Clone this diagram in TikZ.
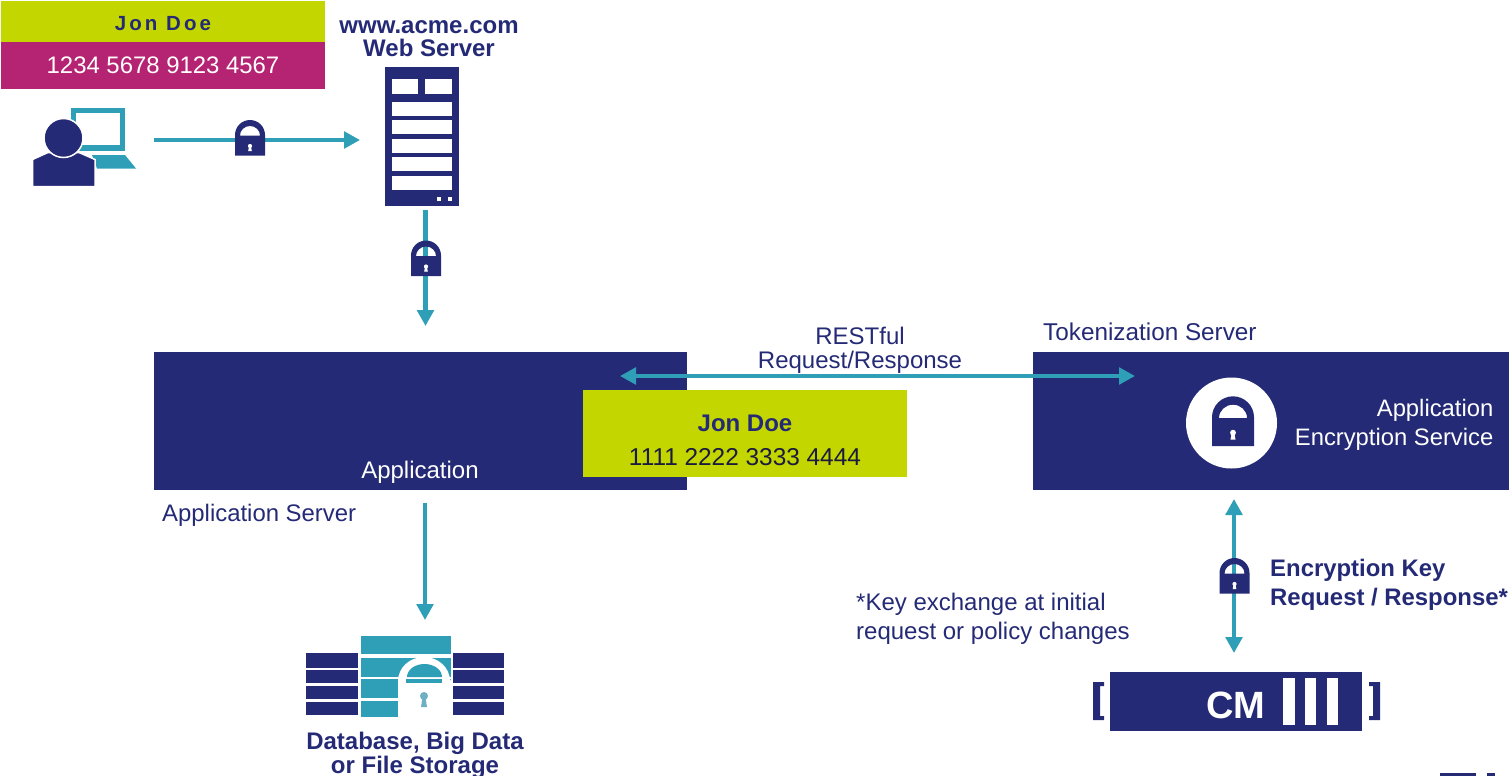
\documentclass[tikz,border=0pt]{standalone}
\usepackage{fontspec}
\setmainfont{Liberation Sans}
\usetikzlibrary{arrows.meta}
\definecolor{navy}{HTML}{242A75}
\definecolor{teal2}{HTML}{2F9FB8}
\definecolor{lime}{HTML}{C4D600}
\definecolor{plum}{HTML}{B52472}
\definecolor{lkey}{HTML}{6FAFC4}
\definecolor{inkdark}{HTML}{1B1B3F}
\newcommand{\fs}[1]{\fontsize{#1}{#1}\selectfont}
\tikzset{
  flow/.style={draw=teal2,line width=4.3pt,-{Triangle[length=16pt,width=16.5pt]}},
  flowboth/.style={draw=teal2,line width=4.3pt,{Triangle[length=16pt,width=16.5pt]}-{Triangle[length=16pt,width=16.5pt]}},
  lbl/.style={inner sep=0pt,text=navy,font=\fs{24}},
  lblb/.style={inner sep=0pt,text=navy,font=\fs{24}\bfseries},
  panel/.style={fill=navy,draw=none,inner sep=0pt,outer sep=0pt},
  pics/padlock/.style={code={
    \fill[navy,even odd rule] (-15,35) -- (-15,14.5) arc[start angle=180,end angle=360,radius=15] -- (15,35) -- cycle
      (-10,15) arc[start angle=180,end angle=360,x radius=10,y radius=9.5] -- cycle;
    \fill[white] (0,25.5) circle[radius=2.1];
    \fill[white] (-1,26) -- (1,26) -- (1.8,30.5) -- (-1.8,30.5) -- cycle;
  }}
}
\begin{document}
\begin{tikzpicture}[x=1pt,y=-1pt]
\useasboundingbox (0,0) rectangle (1512,776);
% card
\node[fill=lime,minimum width=324pt,minimum height=41pt,inner sep=0pt,outer sep=0pt,anchor=north west] (cardtop) at (1,1) {};
\node[fill=plum,minimum width=324pt,minimum height=47pt,inner sep=0pt,outer sep=0pt,anchor=north west] (cardbot) at (1,42) {};
\node[inner sep=0pt,text=navy,font=\fs{20.5}\bfseries\addfontfeature{LetterSpace=15}] (cardname) at (163,24) {Jon Doe};
\node[inner sep=0pt,text=white,font=\fs{23.9}] (cardnum) at (163,65) {1234 5678 9123 4567};
% user with laptop
\fill[teal2] (70.7,108) rectangle (125,150.7);
\fill[white] (76,112.7) rectangle (120,145);
\fill[teal2] (92,155) -- (125,155) -- (136,168.5) -- (97,168.5) -- cycle;
\fill[navy,draw=white,line width=1.5pt] (32.5,186.5) -- (32.5,159.5) -- (48,152.5) -- (79,152.5) -- (95,159.5) -- (95,186.5) -- cycle;
\fill[navy,draw=white,line width=1.5pt] (63.5,138) circle[radius=19.5];
\coordinate (user) at (154,140);
% web server
\node[lblb,align=center] (webtitle) at (429,38.5) {www.acme.com\\[-1pt]Web Server};
\node[panel,minimum width=74pt,minimum height=139pt,anchor=north west] (server) at (385,67) {};
\foreach \a/\b/\c/\d in {392/79/418/94,425/79/452/94,392/102/452/116,392/120/452/134,392/139/452/153,392/157/452/171,392/176/452/190,437/197/441/201,448/197/452/201}
  \fill[white] (\a,\b) rectangle (\c,\d);
\coordinate (srvin) at (360,140);
\coordinate (srvout) at (425.5,210);
\coordinate (appin) at (425.5,326);
\draw[flow] (user) -- (srvin);
\draw[flow] (srvout) -- (appin);
\pic at (250,120.5) {padlock};
\pic at (426,241) {padlock};
% application server
\node[panel,minimum width=533pt,minimum height=138pt,anchor=north west] (app) at (154,352) {};
\node[inner sep=0pt,text=white,font=\fs{24}] (applbl) at (420,472) {Application};
\node[lbl,anchor=west,font=\fs{23.9}] (appsrv) at (162,515) {Application Server};
% tokenization server
\node[panel,minimum width=476pt,minimum height=138pt,anchor=north west] (tok) at (1033,352) {};
\node[lbl,anchor=west,font=\fs{24.3}] (toklbl) at (1043,332) {Tokenization Server};
\fill[white] (1231.5,423) circle[radius=45.5];
\pic[scale=1.4] at (1233,397) {padlock};
\node[inner sep=0pt,text=white,font=\fs{23.8},align=right,anchor=east] (aes) at (1493.5,424.5) {Application\\[5.2pt]Encryption Service};
% rest
\node[lbl,align=center] (rest) at (860,350) {RESTful\\[0pt]Request/Response};
\coordinate (restl) at (620,376);
\coordinate (restr) at (1135,376);
\draw[flowboth] (restl) -- (restr);
% token card
\node[fill=lime,minimum width=324pt,minimum height=87pt,inner sep=0pt,outer sep=0pt,anchor=north west] (tcard) at (583,390) {};
\node[lblb] (tname) at (745,423) {Jon Doe};
\node[inner sep=0pt,text=inkdark,font=\fs{24.4}] (tnum) at (745,457) {1111 2222 3333 4444};
% storage
\coordinate (appout) at (425,503);
\coordinate (dbin) at (425,620);
\draw[flow] (appout) -- (dbin);
\foreach \a/\b in {653/668,670/683,686/699,702/715}{
  \fill[navy] (306,\a) rectangle (358,\b);
  \fill[navy] (453,\a) rectangle (504,\b);
}
\foreach \a/\b in {636/654,658/677,679/698,701/717}
  \fill[teal2] (361,\a) rectangle (451,\b);
\fill[white] (398,717.5) -- (398,681) arc[start angle=180,end angle=360,x radius=26,y radius=24] -- (452,677) -- (452,717.5) -- cycle;
\fill[teal2] (407,677) arc[start angle=180,end angle=360,x radius=17.5,y radius=13] -- cycle;
\fill[teal2] (406,679) rectangle (442,683);
\fill[lkey] (424,696) circle[radius=4];
\fill[lkey] (422.5,698) -- (425.5,698) -- (427,707) -- (421,707) -- cycle;
\node[lblb,align=center] (dblbl) at (415,755) {Database, Big Data\\[0pt]or File Storage};
% key exchange
\node[lbl,align=left,anchor=west] (keynote) at (856,618.5) {*Key exchange at initial\\[5pt]request or policy changes};
\node[lblb,align=left,anchor=west,font=\fs{23.9}\bfseries] (keylbl) at (1270,584.5) {Encryption Key\\[5.1pt]Request / Response*};
\coordinate (kt) at (1234,499);
\coordinate (kb) at (1234,653);
\draw[flowboth] (kt) -- (kb);
\pic at (1234.5,558.5) {padlock};
% CM
\node[panel,minimum width=252pt,minimum height=59pt,anchor=north west] (cm) at (1110,672) {};
\node[inner sep=0pt,text=white,font=\fs{38}\bfseries] (cmlbl) at (1236,705) {CM};
\foreach \a/\b in {1283/1295,1305/1316,1327/1338}
  \fill[white] (\a,678) rectangle (\b,725);
\fill[navy] (1104,682) -- (1093,682) -- (1093,720) -- (1104,720) -- (1104,716) -- (1100,716) -- (1100,686) -- (1104,686) -- cycle;
\fill[navy] (1369,682) -- (1380,682) -- (1380,720) -- (1369,720) -- (1369,716) -- (1373,716) -- (1373,686) -- (1369,686) -- cycle;
% cropped mark at the lower edge
\fill[navy] (1440,773) rectangle (1476,776);
\fill[navy] (1487,772.5) rectangle (1495,776);
\end{tikzpicture}
\end{document}
